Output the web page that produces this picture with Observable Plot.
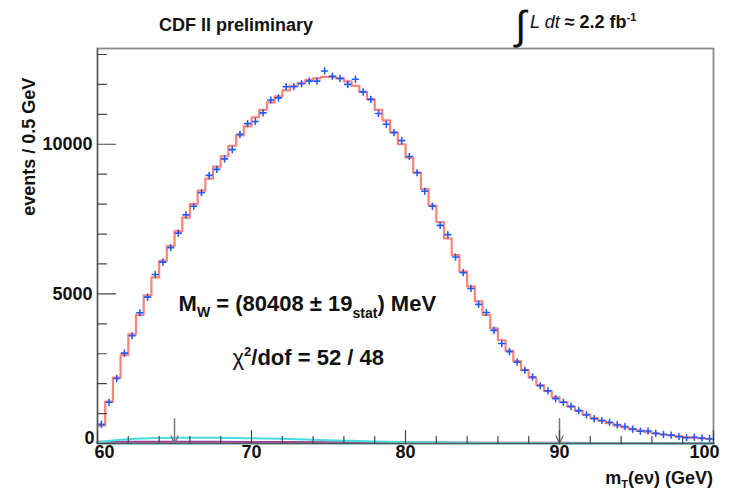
<!DOCTYPE html>
<html><head><meta charset="utf-8">
<script src="https://cdn.jsdelivr.net/npm/d3@7"></script>
<script src="https://cdn.jsdelivr.net/npm/@observablehq/plot@0.6"></script>
<style>
html,body{margin:0;padding:0;background:#fff;}
</style></head><body><div id="chart"></div>
<script>
// ---- data ----
const binStart = 60;
const binWidth = 0.5;
const dataCounts = [
  640,1380,2170,3020,3600,4370,4890,5650,6060,6540,
  7030,7640,7930,8380,8960,9160,9510,9820,10330,10690,
  10760,11050,11480,11550,11920,11920,12020,12110,12110,12450,
  12270,12200,12000,12170,11750,11500,11030,10670,10390,10120,
  9590,9050,8430,7930,7290,6980,6230,5710,5180,4650,
  4380,3780,3340,3070,2720,2450,2220,1930,1760,1500,
  1380,1240,1100,960,830,770,710,630,570,480,
  410,420,340,300,280,230,190,210,180,160
];
const modelCounts = [
  600,1400,2200,2950,3650,4300,4950,5550,6100,6600,
  7100,7550,8000,8450,8850,9250,9600,9950,10300,10600,
  10900,11150,11400,11600,11800,11950,12050,12150,12200,12250,
  12250,12200,12100,11950,11750,11500,11150,10800,10400,10000,
  9550,9050,8500,7950,7400,6850,6300,5750,5250,4750,
  4300,3850,3450,3100,2750,2450,2200,1950,1750,1550,
  1380,1230,1090,960,850,760,680,600,540,480,
  430,380,340,300,270,240,210,190,170,150
];
const bkgHumpX = [60,61,62,63,64,65,66,67,68,69,70,72,74,76,78,80,82,85,90,95,100];
const bkgHumpY = [40,100,140,165,180,190,195,195,190,185,175,155,125,95,65,45,30,20,12,8,5];
const bkgFlatX = [60,65,70,75,78,80,85,90,95,100];
const bkgFlatY = [60,58,52,45,40,35,28,22,15,10];
const bkgBaseX = [60,70,80,90,100];
const bkgBaseY = [8,10,12,10,8];
const xMajorTicks = [60,70,80,90,100];
const xMinorTicks = [62,64,66,68,72,74,76,78,82,84,86,88,92,94,96,98];
const yMajorTicks = [0,5000,10000];
const yMinorTicks = [1000,2000,3000,4000,6000,7000,8000,9000,11000,12000,13000];
const fitEdges = [65,90];
const fitArrowTop = 830;
const annMw = {x: 65.3, y: 4400};
const annChi = {x: 68.8, y: 2620};

// ---- derived tables ----
const bins = dataCounts.map((n,i)=>({x0: binStart+i*binWidth, x1: binStart+(i+1)*binWidth, xc: binStart+(i+0.5)*binWidth, n, m: modelCounts[i]}));
const modelSteps = bins.map(b=>({x:b.x0, y:b.m})).concat([{x: bins[bins.length-1].x1, y: bins[bins.length-1].m}]);
const hump = bkgHumpX.map((x,i)=>({x, y:bkgHumpY[i]}));
const flat = bkgFlatX.map((x,i)=>({x, y:bkgFlatY[i]}));
const base = bkgBaseX.map((x,i)=>({x, y:bkgBaseY[i]}));

const tickShape = {draw(ctx,l){ctx.moveTo(0,0);ctx.lineTo(0,-l);}};
const crossShape = {draw(ctx,l){ctx.moveTo(-l,0);ctx.lineTo(l,0);ctx.moveTo(0,-l);ctx.lineTo(0,l);}};
const FONT = "'Liberation Sans', Arial, Helvetica, sans-serif";
const lab = {fontSize: 18, fontWeight: "bold", fill: "#111"};

const plot = Plot.plot({
  width: 731, height: 489,
  marginLeft: 97, marginRight: 18, marginTop: 48, marginBottom: 46,
  x: {domain: [60, 100], axis: null},
  y: {domain: [0, 13200], axis: null},
  style: {fontFamily: FONT, background: "#fff", overflow: "visible"},
  marks: [
    Plot.line(base, {x:"x", y:"y", curve:"monotone-x", stroke:"#5fe3e6", strokeWidth:2.5}),
    Plot.line(flat, {x:"x", y:"y", curve:"monotone-x", stroke:"#9a3a9a", strokeWidth:2}),
    Plot.line(hump, {x:"x", y:"y", curve:"monotone-x", stroke:"#45dde0", strokeWidth:2}),
    Plot.line(modelSteps, {x:"x", y:"y", curve:"step-after", stroke:"#ff6d5e", strokeWidth:2.2, strokeOpacity:0.85}),
    Plot.vector(bins, {x:"xc", y:"n", length:3, anchor:"start", shape: crossShape, stroke:"#1f5bff", strokeWidth:1.6}),
    Plot.arrow(fitEdges, {x1:d=>d, x2:d=>d, y1:()=>fitArrowTop, y2:()=>0, stroke:"#777", strokeWidth:1.5, headLength:9, headAngle:50}),
    Plot.frame({stroke:"#8a8a8a", strokeWidth:1.8}),
    Plot.ruleX([60], {stroke:"#555", strokeWidth:1.2}),
    Plot.ruleY([0], {stroke:"#555", strokeWidth:1}),
    Plot.vector(xMajorTicks, {x:d=>d, frameAnchor:"bottom", length:13, rotate:0, anchor:"start", shape:tickShape, stroke:"#444", strokeWidth:1.2}),
    Plot.vector(xMinorTicks, {x:d=>d, frameAnchor:"bottom", length:7, rotate:0, anchor:"start", shape:tickShape, stroke:"#444", strokeWidth:1.2}),
    Plot.vector(yMajorTicks, {y:d=>d, frameAnchor:"left", length:18, rotate:90, anchor:"start", shape:tickShape, stroke:"#444", strokeWidth:1.2}),
    Plot.vector(yMinorTicks, {y:d=>d, frameAnchor:"left", length:9, rotate:90, anchor:"start", shape:tickShape, stroke:"#444", strokeWidth:1.2}),
    Plot.text(xMajorTicks.slice(1,-1), {x:d=>d, frameAnchor:"bottom", dy:14, text:d=>String(d), ...lab}),
    Plot.text(xMajorTicks.slice(0,1), {x:d=>d, frameAnchor:"bottom", dy:14, dx:7, text:d=>String(d), ...lab}),
    Plot.text(xMajorTicks.slice(-1), {x:d=>d, frameAnchor:"bottom", dy:14, dx:-9, text:d=>String(d), ...lab}),
    Plot.text(yMajorTicks.slice(1), {y:d=>d, frameAnchor:"left", dx:-5, textAnchor:"end", text:d=>String(d), ...lab}),
    Plot.text(yMajorTicks.slice(0,1), {y:d=>d, frameAnchor:"left", dx:-3, dy:-5, textAnchor:"end", text:d=>String(d), ...lab})
  ]
});
document.getElementById("chart").appendChild(plot);

// ---- rich text annotations (sub/superscripts) ----
const svg = d3.select(plot);
const X = plot.scale("x"), Y = plot.scale("y");
function rich(px, py, segs, opts={}) {
  const t = svg.append("text").attr("x", px).attr("y", py)
    .attr("font-family", FONT).attr("fill", "#111")
    .attr("font-size", opts.size || 18).attr("font-weight", opts.weight || "bold")
    .attr("text-anchor", opts.anchor || "start");
  if (opts.rotate) t.attr("transform", `rotate(${opts.rotate},${px},${py})`);
  segs.forEach(s => {
    const sp = t.append("tspan").text(s.t);
    if (s.size) sp.attr("font-size", s.size);
    if (s.weight) sp.attr("font-weight", s.weight);
    if (s.style) sp.attr("font-style", s.style);
    if (s.dy) sp.attr("dy", s.dy);
  });
  return t;
}
const [xl, xr] = X.range, [yb, yt] = Y.range;
// header
rich(xl + 62, yt - 17, [{t:"CDF II preliminary"}], {size:18});
rich(xl + 418, yt - 9, [{t:"∫", size:40, weight:"normal"}], {size:18});
rich(xl + 433, yt - 20, [
  {t:"L dt", style:"italic", weight:"normal"},
  {t:" ≈ ", weight:"bold"},
  {t:"2.2 fb"},
  {t:"-1", size:11, dy:-7}
], {size:18});
// annotations
rich(X.apply(annMw.x), Y.apply(annMw.y), [
  {t:"M"}, {t:"W", size:14, dy:6}, {t:" = (80408 ± 19", dy:-6}, {t:"stat", size:14, dy:7}, {t:") MeV", dy:-7}
], {size:22});
rich(X.apply(annChi.x), Y.apply(annChi.y), [
  {t:"χ", weight:"normal"}, {t:"2", size:13, dy:-9}, {t:"/dof = 52 / 48", dy:9}
], {size:22});
// axis titles
rich(xr, yb + 41, [{t:"m"}, {t:"T", size:11, dy:4}, {t:"(eν) (GeV)", dy:-4}], {size:18, anchor:"end"});
rich(xl - 62, Y.apply(9900), [{t:"events / 0.5 GeV"}], {size:18, anchor:"middle", rotate:-90});
</script></body></html>
